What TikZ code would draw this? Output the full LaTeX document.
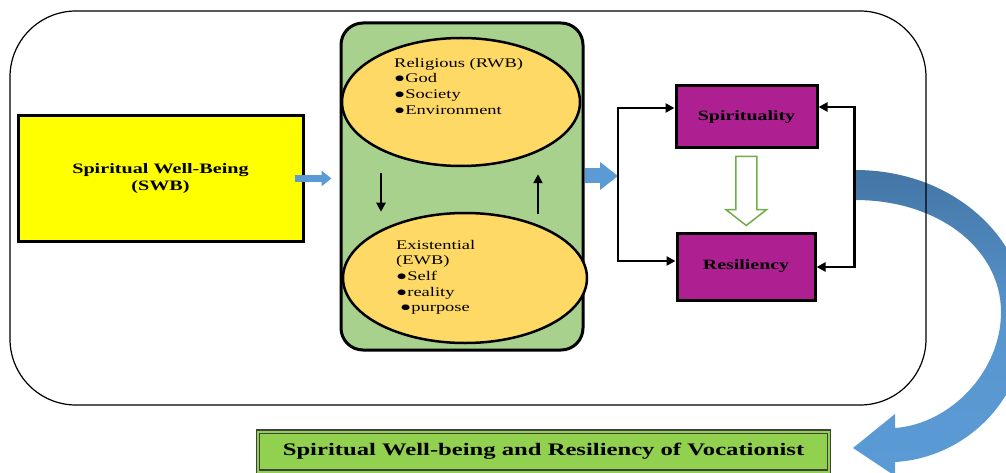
\documentclass[tikz,border=0pt]{standalone}
\usepackage{fontspec}
\setmainfont{Liberation Serif}[FakeStretch=1.4]
\usetikzlibrary{arrows.meta,shapes.geometric,calc}

\begin{document}
\begin{tikzpicture}[x=1pt, y=-1pt, >={Triangle[length=9pt,width=9pt]},
    box/.style={draw=black, line width=3pt, inner sep=0pt},
    blk/.style={->, line width=2.8pt},
    bluearrow/.style={draw=swbblue, line width=7pt, -{Triangle[length=10pt,width=15pt]}},
    bigblue/.style={draw=swbblue, line width=15pt, -{Triangle[length=18pt,width=27pt]}},
    wbell/.style={ellipse, draw=black, line width=2.5pt, fill=ellyellow, inner sep=0pt},
    listtext/.style={font=\fontsize{13.2}{15.6}\selectfont, align=left, inner sep=0pt, anchor=north west},
    purplebox/.style={box, fill=spirpurple, font=\bfseries\fontsize{14.2}{17}\selectfont}]
  \definecolor{swbyellow}{RGB}{255,255,0}
  \definecolor{wbgreen}{RGB}{169,209,142}
  \definecolor{ellyellow}{RGB}{255,217,102}
  \definecolor{spirpurple}{RGB}{174,32,146}
  \definecolor{titlegreen}{RGB}{146,208,80}
  \definecolor{swbblue}{RGB}{91,155,213}
  \definecolor{darkblue}{RGB}{68,118,166}
  \definecolor{hollowgreen}{RGB}{112,173,71}

  \useasboundingbox (0,0) rectangle (1006,473);
  \clip (0,0) rectangle (1006,473);

  % curved arrow to the result
  \shade[top color=darkblue, bottom color=swbblue, middle color=swbblue!85!darkblue]
    (855,170) .. controls (955,170) and (1027,240) .. (1027,318)
    .. controls (1027,400) and (965,458) .. (895,462)
    -- (895,476) -- (853,448) -- (895,414) -- (895,428)
    .. controls (950,424) and (1001,372) .. (1001,312)
    .. controls (1001,250) and (940,200) .. (855,200) -- cycle;

  % outer frame
  \draw[line width=1.2pt, rounded corners=66pt] (10,11) rectangle (926,405);

  % input
  \node[box, fill=swbyellow, minimum width=285pt, minimum height=125pt, align=center,
    font=\bfseries\fontsize{14.4}{17}\selectfont] (swb) at (160.5,178.5) {Spiritual Well-Being\\(SWB)};

  % the two dimensions
  \node[box, rounded corners=22pt, fill=wbgreen, minimum width=242pt, minimum height=327pt] (wb) at (462,186.5) {};
  \node[wbell, minimum width=238pt, minimum height=128pt] (rwb) at (461,102) {};
  \node[wbell, minimum width=244pt, minimum height=130pt] (ewb) at (465,278) {};
  \node[listtext] (rwbtext) at (394,58) {Religious (RWB)\\●God\\●Society\\●Environment};
  \node[listtext] (ewbtext) at (396,240) {Existential\\(EWB)\\●Self\\●reality\\\hspace*{4pt}●purpose};
  \draw[blk] ($(rwb.south)+(-80,6)$) -- ($(ewb.north)+(-84,0)$);
  \draw[blk] ($(ewb.north)+(73,2)$) -- ($(rwb.south)+(77,7)$);

  % outcomes
  \node[purplebox, minimum width=141pt, minimum height=62pt] (spir) at (746.5,117) {Spirituality};
  \node[purplebox, minimum width=138pt, minimum height=67pt] (resil) at (746,266.5) {Resiliency};
  \coordinate (split) at (618,176);

  \draw[bluearrow] ([xshift=-10pt]swb.east) -- ($(swb.east -| wb.west)+(-8,0)$);
  \draw[bigblue] (wb.east |- split) -- (split);
  \draw[blk] (split) |- ([yshift=9pt]spir.west);
  \draw[blk] (split) |- ([yshift=5.5pt]resil.west);
  \draw[blk, <->] ([yshift=10pt]spir.east) -- ++(36,0) |- ([yshift=-0.5pt]resil.east);

  % hollow arrow
  \coordinate (mid) at ($(spir.south)!0.5!(resil.north)$);
  \draw[hollowgreen, line width=1.5pt, fill=white]
    ($(mid)+(-10.5,-34)$) -- ($(mid)+(10.5,-34)$) -- ($(mid)+(10.5,19)$) -- ($(mid)+(20.5,19)$)
    -- ($(mid)+(0,35)$) -- ($(mid)+(-20.5,19)$) -- ($(mid)+(-10.5,19)$) -- cycle;

  % result
  \node[draw=black!75, line width=1.2pt, double=titlegreen, double distance=2pt, fill=titlegreen,
    minimum width=571pt, minimum height=40pt, font=\bfseries\fontsize{17.6}{20}\selectfont]
    (title) at (543.5,451.5) {Spiritual Well-being and Resiliency of Vocationist};
\end{tikzpicture}
\end{document}
